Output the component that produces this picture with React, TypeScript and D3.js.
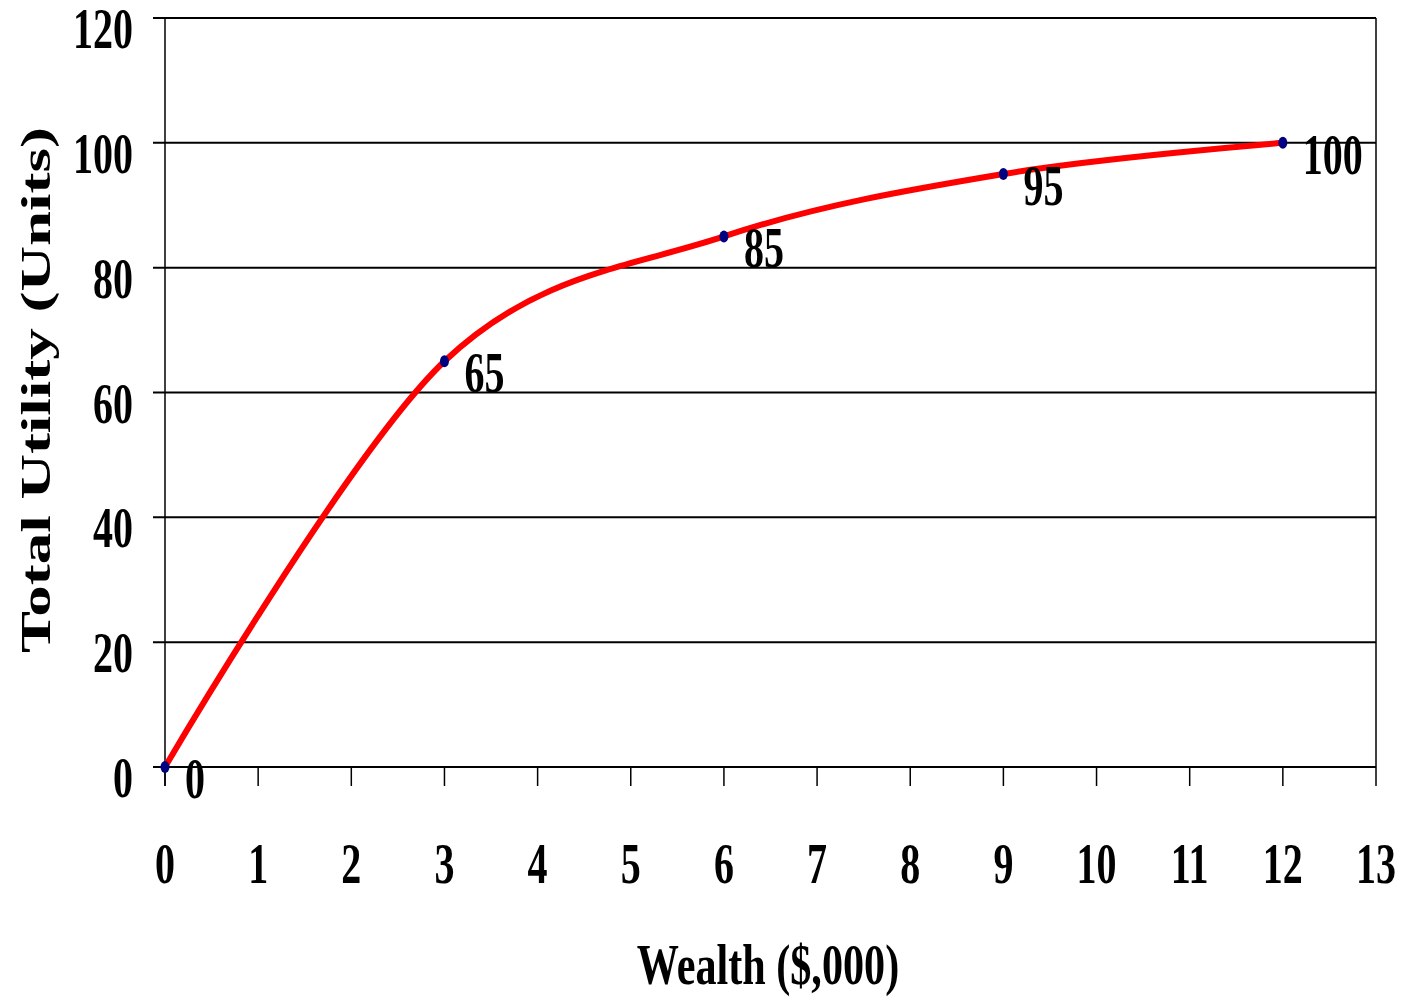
import React from "react";
import * as d3 from "d3";

const wealth = [0, 3, 6, 9, 12];
const utility = [0, 65, 85, 95, 100];
const pointLabels = ["0", "65", "85", "95", "100"];
const xTicks = [0, 1, 2, 3, 4, 5, 6, 7, 8, 9, 10, 11, 12, 13];
const yTicks = [0, 20, 40, 60, 80, 100, 120];
const xTitle = "Wealth ($,000)";
const yTitle = "Total Utility (Units)";

const W = 1403;
const H = 1000;
const FONT = "'Liberation Serif', 'Times New Roman', serif";
const SX = 0.69;

export default function App() {
  const x = d3.scaleLinear().domain([0, 13]).range([165, 1376]);
  const y = d3.scaleLinear().domain([0, 120]).range([767, 18]);
  const pts: [number, number][] = wealth.map((w, i) => [w, utility[i]]);
  const line = d3
    .line<[number, number]>()
    .x((d) => x(d[0]))
    .y((d) => y(d[1]))
    .curve(d3.curveCardinal.tension(0));

  const label = (
    key: string,
    tx: number,
    ty: number,
    txt: string,
    anchor: "start" | "middle" | "end",
    size = 58,
    sx = SX
  ) => (
    <text
      key={key}
      transform={`translate(${tx},${ty}) scale(${sx},1)`}
      textAnchor={anchor}
      fontFamily={FONT}
      fontWeight="bold"
      fontSize={size}
      fill="#000"
    >
      {txt}
    </text>
  );

  return (
    <div style={{ position: "absolute", left: 0, top: 0 }}>
      <svg width={W} height={H} style={{ display: "block", background: "#fff" }}>
        {/* horizontal gridlines */}
        {yTicks.map((t) => (
          <line
            key={"g" + t}
            x1={153}
            x2={x(13)}
            y1={y(t)}
            y2={y(t)}
            stroke="#000"
            strokeWidth={2}
          />
        ))}
        {/* y axis */}
        <line x1={x(0)} x2={x(0)} y1={y(120)} y2={y(0) + 19} stroke="#000" strokeWidth={1.5} />
        {/* right border */}
        <line x1={x(13)} x2={x(13)} y1={y(120)} y2={y(0)} stroke="#000" strokeWidth={1.5} />
        {/* x ticks */}
        {xTicks.map((t) => (
          <line
            key={"xt" + t}
            x1={x(t)}
            x2={x(t)}
            y1={y(0)}
            y2={y(0) + 19}
            stroke="#000"
            strokeWidth={1.5}
          />
        ))}
        {/* y tick labels */}
        {yTicks.map((t) => label("yl" + t, 133, y(t) + 30, String(t), "end"))}
        {/* x tick labels */}
        {xTicks.map((t) => label("xl" + t, x(t), 883, String(t), "middle"))}
        {/* curve */}
        <path d={line(pts) || ""} fill="none" stroke="#ff0000" strokeWidth={6} strokeLinejoin="round" />
        {/* markers */}
        {pts.map((p, i) => (
          <ellipse key={"m" + i} cx={x(p[0])} cy={y(p[1])} rx={4.5} ry={6} fill="#000080" />
        ))}
        {/* point labels */}
        {pts.map((p, i) => label("pl" + i, x(p[0]) + 20, y(p[1]) + 31, pointLabels[i], "start"))}
        {/* axis titles */}
        {label("xt", 768, 984, xTitle, "middle", 57, 0.74)}
        <text
          transform={`translate(50,390) rotate(-90) scale(1,0.66)`}
          textAnchor="middle"
          fontFamily={FONT}
          fontWeight="bold"
          fontSize={63}
          fill="#000"
        >
          {yTitle}
        </text>
      </svg>
    </div>
  );
}
